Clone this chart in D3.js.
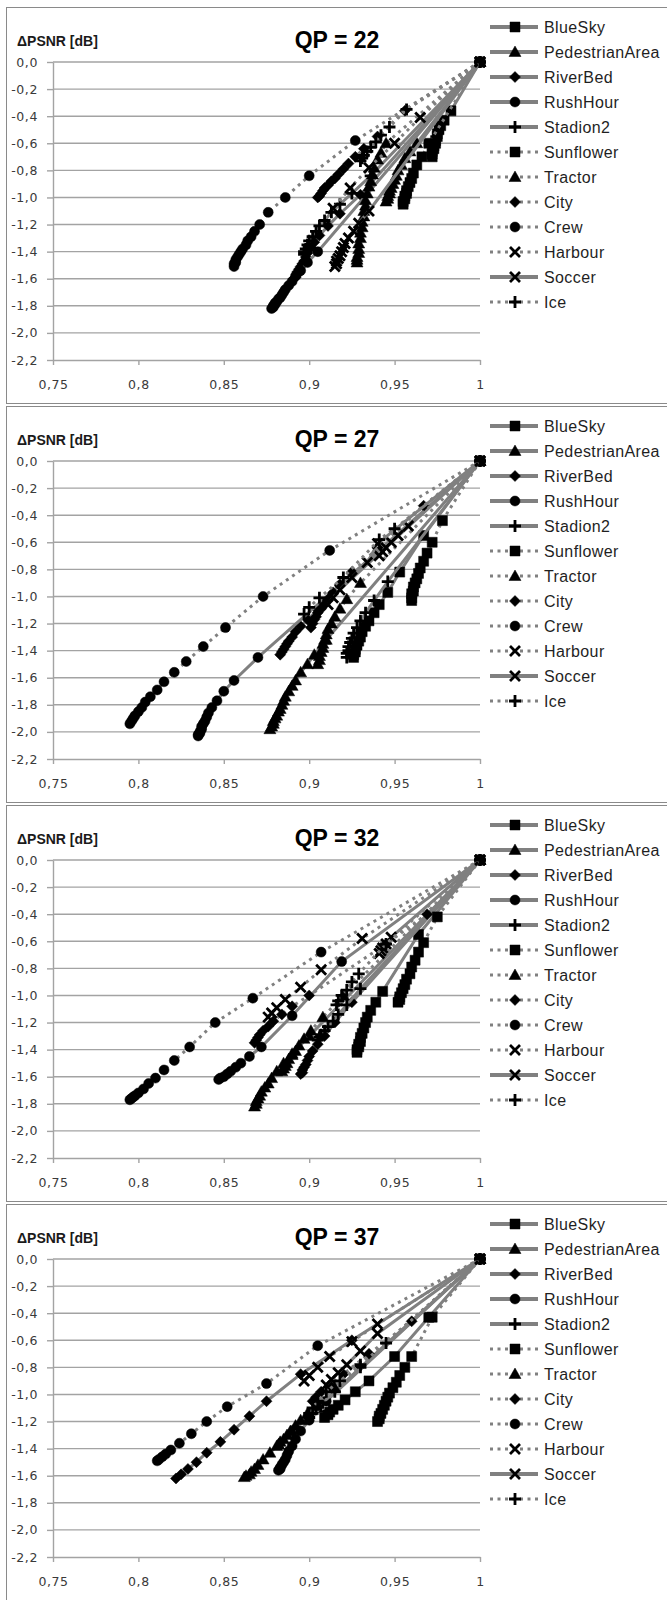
<!DOCTYPE html>
<html lang="en">
<head>
<meta charset="UTF-8">
<title>ΔPSNR vs ratio, QP 22-37</title>
<script src="https://d3js.org/d3.v7.min.js"></script>
<style>
  body { margin: 0; background: #fff; }
</style>
</head>
<body>
<script>

// series names and panel titles
var seriesNames = ["BlueSky", "PedestrianArea", "RiverBed", "RushHour", "Stadion2", "Sunflower",
                   "Tractor", "City", "Crew", "Harbour", "Soccer", "Ice"];
var qpValues = [22, 27, 32, 37];

// tick values and labels
var xTicks = [0.75, 0.8, 0.85, 0.9, 0.95, 1];
var xTickLabels = ["0,75", "0,8", "0,85", "0,9", "0,95", "1"];
var yTicks = [0, -0.2, -0.4, -0.6, -0.8, -1.0, -1.2, -1.4, -1.6, -1.8, -2.0, -2.2];
var yTickLabels = ["0,0", "-0,2", "-0,4", "-0,6", "-0,8", "-1,0", "-1,2", "-1,4", "-1,6", "-1,8", "-2,0", "-2,2"];

// [x, dPSNR] points per series, in seriesNames order
var qp22 = [
  [[1,0],[0.983,-0.36],[0.979,-0.43],[0.977,-0.47],[0.976,-0.5],[0.975,-0.53],[0.975,-0.55],[0.974,-0.58],[0.974,-0.6],[0.973,-0.62],[0.973,-0.64],[0.972,-0.66],[0.972,-0.68],[0.972,-0.7]],
  [[1,0],[0.963,-0.6],[0.959,-0.66],[0.956,-0.71],[0.954,-0.76],[0.952,-0.8],[0.951,-0.84],[0.95,-0.87],[0.949,-0.9],[0.948,-0.93],[0.947,-0.95],[0.947,-0.97],[0.946,-0.99],[0.946,-1.01],[0.945,-1.03]],
  [[1,0],[0.93,-0.98],[0.918,-1.12],[0.911,-1.21],[0.906,-1.28],[0.903,-1.33],[0.901,-1.37],[0.899,-1.41],[0.898,-1.44],[0.897,-1.47],[0.896,-1.49],[0.895,-1.51],[0.894,-1.53],[0.893,-1.55],[0.893,-1.57],[0.892,-1.59],[0.891,-1.6]],
  [[1,0],[0.905,-1.4],[0.899,-1.48],[0.895,-1.54],[0.892,-1.58],[0.89,-1.62],[0.888,-1.65],[0.886,-1.68],[0.885,-1.7],[0.884,-1.72],[0.883,-1.74],[0.882,-1.75],[0.881,-1.77],[0.88,-1.78],[0.88,-1.79],[0.879,-1.8],[0.879,-1.81],[0.878,-1.82]],
  [[1,0],[0.936,-0.84],[0.925,-0.97],[0.918,-1.05],[0.913,-1.11],[0.909,-1.17],[0.906,-1.21],[0.904,-1.25],[0.902,-1.29],[0.9,-1.32],[0.899,-1.35],[0.898,-1.38],[0.897,-1.4],[0.897,-1.42]],
  [[1,0],[0.97,-0.6],[0.966,-0.7],[0.963,-0.76],[0.961,-0.82],[0.96,-0.86],[0.959,-0.89],[0.958,-0.92],[0.957,-0.95],[0.957,-0.97],[0.956,-0.99],[0.956,-1.01],[0.955,-1.03],[0.955,-1.05]],
  [[1,0],[0.945,-0.6],[0.942,-0.67],[0.94,-0.72],[0.938,-0.78],[0.937,-0.83],[0.936,-0.88],[0.935,-0.92],[0.934,-0.97],[0.933,-1.02],[0.933,-1.06],[0.932,-1.1],[0.932,-1.14],[0.931,-1.18],[0.931,-1.22],[0.93,-1.26],[0.93,-1.3],[0.929,-1.34],[0.929,-1.38],[0.929,-1.41],[0.928,-1.44],[0.928,-1.46],[0.928,-1.48]],
  [[1,0],[0.956,-0.36],[0.94,-0.55],[0.932,-0.64],[0.927,-0.7],[0.923,-0.75],[0.92,-0.79],[0.917,-0.83],[0.915,-0.86],[0.913,-0.88],[0.911,-0.91],[0.909,-0.93],[0.908,-0.95],[0.907,-0.97],[0.906,-0.99],[0.905,-1.0]],
  [[1,0],[0.927,-0.58],[0.9,-0.84],[0.886,-1.0],[0.876,-1.11],[0.871,-1.2],[0.868,-1.25],[0.866,-1.29],[0.864,-1.32],[0.863,-1.35],[0.861,-1.38],[0.86,-1.4],[0.859,-1.42],[0.858,-1.44],[0.857,-1.46],[0.857,-1.48],[0.856,-1.49],[0.856,-1.51]],
  [[1,0],[0.965,-0.41],[0.95,-0.6],[0.935,-0.78],[0.924,-0.93],[0.914,-1.08]],
  [[1,0],[0.935,-1.1],[0.929,-1.19],[0.926,-1.25],[0.923,-1.3],[0.921,-1.34],[0.92,-1.37],[0.919,-1.4],[0.918,-1.43],[0.917,-1.45],[0.916,-1.47],[0.916,-1.49],[0.915,-1.51]],
  [[1,0],[0.957,-0.35],[0.947,-0.48],[0.942,-0.54],[0.939,-0.59],[0.936,-0.63],[0.934,-0.66],[0.932,-0.69],[0.931,-0.71],[0.93,-0.73]]
];

var qp27 = [
  [[1,0],[0.967,-0.55],[0.953,-0.82],[0.946,-0.97],[0.941,-1.06],[0.938,-1.12],[0.935,-1.18],[0.933,-1.22],[0.931,-1.26],[0.93,-1.3],[0.929,-1.33],[0.928,-1.36],[0.927,-1.39],[0.927,-1.41],[0.926,-1.43],[0.926,-1.45]],
  [[1,0],[0.91,-1.32],[0.903,-1.43],[0.899,-1.5],[0.895,-1.56],[0.892,-1.62],[0.89,-1.66],[0.888,-1.7],[0.886,-1.74],[0.885,-1.77],[0.884,-1.8],[0.883,-1.83],[0.882,-1.85],[0.881,-1.88],[0.88,-1.9],[0.879,-1.92],[0.879,-1.94],[0.878,-1.96],[0.877,-1.98]],
  [[1,0],[0.905,-1.1],[0.899,-1.17],[0.895,-1.22],[0.892,-1.26],[0.89,-1.3],[0.888,-1.33],[0.887,-1.35],[0.886,-1.37],[0.885,-1.39],[0.884,-1.41],[0.883,-1.43]],
  [[1,0],[0.87,-1.45],[0.856,-1.62],[0.85,-1.7],[0.846,-1.77],[0.843,-1.82],[0.841,-1.86],[0.84,-1.89],[0.839,-1.92],[0.838,-1.94],[0.837,-1.96],[0.837,-1.98],[0.836,-2.0],[0.836,-2.01],[0.835,-2.02],[0.835,-2.03]],
  [[1,0],[0.946,-0.89],[0.938,-1.03],[0.933,-1.12],[0.93,-1.18],[0.928,-1.23],[0.926,-1.27],[0.925,-1.31],[0.924,-1.34],[0.923,-1.37],[0.923,-1.4],[0.922,-1.42],[0.922,-1.45]],
  [[1,0],[0.978,-0.44],[0.972,-0.6],[0.969,-0.68],[0.967,-0.74],[0.965,-0.79],[0.964,-0.83],[0.963,-0.87],[0.962,-0.9],[0.961,-0.93],[0.961,-0.96],[0.96,-0.98],[0.96,-1.01],[0.96,-1.03]],
  [[1,0],[0.93,-0.9],[0.922,-1.02],[0.918,-1.09],[0.915,-1.15],[0.913,-1.2],[0.911,-1.24],[0.91,-1.28],[0.909,-1.32],[0.908,-1.35],[0.908,-1.38],[0.907,-1.41],[0.906,-1.44],[0.906,-1.47],[0.905,-1.5]],
  [[1,0],[0.967,-0.33],[0.925,-0.82],[0.918,-0.91],[0.914,-0.97],[0.911,-1.02],[0.909,-1.06],[0.907,-1.09],[0.905,-1.12],[0.904,-1.15],[0.903,-1.17],[0.902,-1.2],[0.901,-1.23]],
  [[1,0],[0.912,-0.66],[0.873,-1.0],[0.851,-1.23],[0.838,-1.37],[0.828,-1.48],[0.821,-1.56],[0.815,-1.63],[0.811,-1.69],[0.807,-1.74],[0.804,-1.78],[0.802,-1.82],[0.8,-1.85],[0.798,-1.88],[0.797,-1.9],[0.796,-1.92],[0.795,-1.94]],
  [[1,0],[0.958,-0.48],[0.952,-0.55],[0.948,-0.6],[0.945,-0.64],[0.943,-0.67],[0.941,-0.7]],
  [[1,0],[0.94,-0.61],[0.934,-0.75],[0.925,-0.86],[0.918,-0.95],[0.914,-1.01],[0.911,-1.06]],
  [[1,0],[0.95,-0.5],[0.941,-0.58],[0.92,-0.86],[0.906,-1.01],[0.9,-1.08],[0.897,-1.13]]
];

var qp32 = [
  [[1,0],[0.964,-0.55],[0.943,-0.97],[0.939,-1.05],[0.936,-1.11],[0.934,-1.16],[0.933,-1.2],[0.932,-1.24],[0.931,-1.28],[0.93,-1.31],[0.93,-1.34],[0.929,-1.36],[0.929,-1.38],[0.928,-1.4],[0.928,-1.42]],
  [[1,0],[0.9,-1.3],[0.89,-1.43],[0.885,-1.5],[0.881,-1.56],[0.878,-1.61],[0.876,-1.65],[0.874,-1.68],[0.872,-1.71],[0.871,-1.74],[0.87,-1.76],[0.869,-1.78],[0.869,-1.8],[0.868,-1.82]],
  [[1,0],[0.925,-1.05],[0.915,-1.2],[0.909,-1.3],[0.905,-1.36],[0.902,-1.41],[0.9,-1.45],[0.899,-1.48],[0.898,-1.51],[0.897,-1.53],[0.896,-1.55],[0.896,-1.57],[0.895,-1.58]],
  [[1,0],[0.919,-0.75],[0.89,-1.15],[0.872,-1.38],[0.865,-1.45],[0.86,-1.5],[0.857,-1.53],[0.854,-1.56],[0.852,-1.58],[0.85,-1.6],[0.848,-1.61],[0.847,-1.62]],
  [[1,0],[0.93,-0.95],[0.922,-1.07],[0.917,-1.14],[0.914,-1.19],[0.911,-1.23],[0.909,-1.26],[0.907,-1.29],[0.906,-1.31],[0.905,-1.33]],
  [[1,0],[0.975,-0.42],[0.967,-0.61],[0.964,-0.68],[0.962,-0.74],[0.96,-0.79],[0.959,-0.84],[0.957,-0.88],[0.956,-0.92],[0.955,-0.95],[0.954,-0.98],[0.953,-1.01],[0.953,-1.03],[0.952,-1.05]],
  [[1,0],[0.92,-1.0],[0.908,-1.16],[0.901,-1.26],[0.897,-1.32],[0.894,-1.37],[0.892,-1.41],[0.89,-1.44],[0.888,-1.47],[0.887,-1.5],[0.886,-1.52],[0.885,-1.54],[0.884,-1.56]],
  [[1,0],[0.969,-0.4],[0.945,-0.62],[0.9,-1.0],[0.89,-1.08],[0.884,-1.14],[0.879,-1.19],[0.876,-1.23],[0.873,-1.26],[0.871,-1.29],[0.87,-1.31],[0.869,-1.33],[0.868,-1.35]],
  [[1,0],[0.907,-0.68],[0.867,-1.02],[0.845,-1.2],[0.83,-1.38],[0.821,-1.48],[0.815,-1.55],[0.81,-1.61],[0.806,-1.65],[0.803,-1.69],[0.8,-1.72],[0.798,-1.74],[0.797,-1.75],[0.796,-1.76],[0.795,-1.77]],
  [[1,0],[0.931,-0.58],[0.907,-0.81],[0.895,-0.94],[0.886,-1.03],[0.881,-1.09],[0.878,-1.13],[0.876,-1.16]],
  [[1,0],[0.948,-0.57],[0.945,-0.62],[0.943,-0.65],[0.942,-0.67],[0.941,-0.69]],
  [[1,0],[0.945,-0.62],[0.929,-0.84],[0.925,-0.9],[0.922,-0.96],[0.919,-1.0],[0.917,-1.04],[0.916,-1.07]]
];

var qp37 = [
  [[1,0],[0.97,-0.43],[0.95,-0.72],[0.935,-0.9],[0.927,-0.98],[0.921,-1.04],[0.917,-1.08],[0.914,-1.11],[0.912,-1.13],[0.911,-1.15],[0.909,-1.17]],
  [[1,0],[0.905,-1.1],[0.89,-1.27],[0.882,-1.37],[0.877,-1.43],[0.873,-1.48],[0.87,-1.52],[0.868,-1.55],[0.866,-1.57],[0.865,-1.59],[0.863,-1.6],[0.862,-1.61]],
  [[1,0],[0.925,-0.6],[0.895,-0.85],[0.875,-1.05],[0.865,-1.16],[0.856,-1.26],[0.848,-1.35],[0.84,-1.43],[0.834,-1.5],[0.829,-1.55],[0.825,-1.59],[0.822,-1.62]],
  [[1,0],[0.91,-1.05],[0.9,-1.19],[0.895,-1.27],[0.892,-1.33],[0.89,-1.38],[0.888,-1.42],[0.887,-1.45],[0.886,-1.48],[0.885,-1.5],[0.884,-1.52],[0.883,-1.54],[0.883,-1.55],[0.882,-1.56]],
  [[1,0],[0.93,-0.8],[0.915,-0.98],[0.908,-1.06],[0.904,-1.11],[0.902,-1.14],[0.9,-1.17]],
  [[1,0],[0.972,-0.43],[0.96,-0.72],[0.956,-0.8],[0.953,-0.86],[0.951,-0.91],[0.949,-0.95],[0.947,-0.99],[0.946,-1.02],[0.945,-1.05],[0.944,-1.08],[0.943,-1.11],[0.942,-1.14],[0.941,-1.16],[0.941,-1.18],[0.94,-1.2]],
  [[1,0],[0.915,-0.95],[0.905,-1.07],[0.899,-1.14],[0.895,-1.19],[0.892,-1.23],[0.889,-1.27],[0.887,-1.3],[0.885,-1.33],[0.883,-1.35],[0.882,-1.37],[0.881,-1.38]],
  [[1,0],[0.96,-0.46],[0.935,-0.7],[0.92,-0.85],[0.912,-0.93],[0.907,-0.98],[0.904,-1.02],[0.902,-1.05]],
  [[1,0],[0.905,-0.64],[0.875,-0.92],[0.852,-1.09],[0.84,-1.2],[0.831,-1.29],[0.824,-1.36],[0.819,-1.41],[0.816,-1.44],[0.814,-1.46],[0.812,-1.48],[0.811,-1.49]],
  [[1,0],[0.94,-0.48],[0.925,-0.61],[0.912,-0.72],[0.905,-0.8],[0.9,-0.86],[0.897,-0.9]],
  [[1,0],[0.94,-0.55],[0.93,-0.68],[0.922,-0.78],[0.917,-0.84],[0.913,-0.89],[0.91,-0.93]],
  [[1,0],[0.945,-0.62],[0.93,-0.78],[0.918,-0.9],[0.91,-0.98],[0.905,-1.05],[0.902,-1.1],[0.9,-1.14]]
];

var panels = [qp22, qp27, qp32, qp37];

// styling per series (marker shape, dotted line)
var markerType = ["square", "triangle", "diamond", "circle", "plus", "square",
                  "triangle", "diamond", "circle", "cross", "cross", "plus"];
var isDotted = [false, false, false, false, false, true, true, true, true, true, false, true];

var lineGray = "#808080",
    gridGray = "#a3a3a3";

var markerPath = {
  square:   "M-5,-5h10v10h-10z",
  triangle: "M0,-6L6,4.5L-6,4.5z",
  diamond:  "M0,-5.5L5.5,0L0,5.5L-5.5,0z",
  circle:   "M5,0A5,5 0 1,1 -5,0A5,5 0 1,1 5,0z",
  plus:     "M-6,0H6M0,-6V6",
  cross:    "M-5,-5L5,5M5,-5L-5,5"
};

function drawMarker(sel, type) {
  var stroked = (type == "plus" || type == "cross");
  sel.append("path")
    .attr("d", markerPath[type])
    .attr("fill", stroked ? "none" : "#000")
    .attr("stroke", "#000")
    .attr("stroke-width", stroked ? 2.8 : 0.5);
}

function styleLine(sel, dotted) {
  sel.attr("fill", "none")
    .attr("stroke", lineGray)
    .attr("stroke-width", 3)
    .attr("stroke-dasharray", dotted ? "3 4.5" : null);
}

var svg = d3.select("body")
  .append("svg")
    .attr("width", 667)
    .attr("height", 1600);

var panelPitch = 399, panelTop = 7;

panels.forEach(function(data, p) {
  var g = svg.append("g")
      .attr("transform", "translate(0," + (panelTop + p * panelPitch) + ")");

  // panel frame
  g.append("rect")
      .attr("x", 6.5).attr("y", 0.5)
      .attr("width", 680).attr("height", 396)
      .attr("fill", "#fff")
      .attr("stroke", "#8a8a8a");

  var x = d3.scaleLinear().domain([0.75, 1]).range([53, 480]);
  var y = d3.scaleLinear().domain([-2.2, 0]).range([353, 55]);

  // horizontal gridlines
  g.append("g").selectAll("line")
    .data(yTicks.slice(0, -1))
    .enter().append("line")
      .attr("x1", 53).attr("x2", x(1))
      .attr("y1", function(d) { return y(d); })
      .attr("y2", function(d) { return y(d); })
      .attr("stroke", gridGray)
      .attr("stroke-width", 1.4);

  // axes
  var yAxis = g.append("g")
      .attr("transform", "translate(53,0)")
      .call(d3.axisLeft(y)
        .tickValues(yTicks)
        .tickFormat(function(d, i) { return yTickLabels[i]; })
        .tickSize(6).tickSizeOuter(0).tickPadding(9));

  var xAxis = g.append("g")
      .attr("transform", "translate(0," + y(-2.2) + ")")
      .call(d3.axisBottom(x)
        .tickValues(xTicks)
        .tickFormat(function(d, i) { return xTickLabels[i]; })
        .tickSize(5).tickSizeOuter(0).tickPadding(15));

  [yAxis, xAxis].forEach(function(ax) {
    ax.select(".domain").attr("stroke", gridGray).attr("stroke-width", 1.4);
    ax.selectAll(".tick line").attr("stroke", gridGray).attr("stroke-width", 1.4);
    ax.selectAll(".tick text")
      .attr("fill", "#3a3a3a")
      .style("font-family", "DejaVu Sans")
      .style("font-size", "12.5px")
      .style("letter-spacing", "0.6px");
  });

  // axis title and panel title
  g.append("text")
      .attr("x", 17).attr("y", 39)
      .style("font-family", "Liberation Sans")
      .style("font-weight", "bold")
      .style("font-size", "14px")
      .attr("fill", "#1a1a1a")
      .text("ΔPSNR [dB]");

  g.append("text")
      .attr("x", 337).attr("y", 41)
      .attr("text-anchor", "middle")
      .style("font-family", "Liberation Sans")
      .style("font-weight", "bold")
      .style("font-size", "23px")
      .attr("fill", "#000")
      .text("QP = " + qpValues[p]);

  // series
  var line = d3.line()
      .x(function(d) { return x(d[0]); })
      .y(function(d) { return y(d[1]); });

  data.forEach(function(pts, s) {
    g.append("path")
        .datum(pts)
        .attr("d", line)
        .call(styleLine, isDotted[s]);

    g.append("g").selectAll("g")
      .data(pts)
      .enter().append("g")
        .attr("transform", function(d) { return "translate(" + x(d[0]) + "," + y(d[1]) + ")"; })
        .each(function() { drawMarker(d3.select(this), markerType[s]); });
  });

  // legend
  var leg = g.append("g").selectAll("g")
    .data(seriesNames)
    .enter().append("g")
      .attr("transform", function(d, i) { return "translate(0," + (20 + i * 25) + ")"; });

  leg.append("line")
      .attr("x1", 490).attr("x2", 538)
      .each(function(d, i) {
        d3.select(this).call(styleLine, isDotted[i]);
        if (!isDotted[i]) d3.select(this).attr("stroke-width", 4);
      });

  leg.append("g")
      .attr("transform", "translate(515,0)")
      .each(function(d, i) { drawMarker(d3.select(this), markerType[i]); });

  leg.append("text")
      .attr("x", 544)
      .attr("dy", "0.36em")
      .style("font-family", "Liberation Sans")
      .style("font-size", "16px")
      .style("letter-spacing", "0.4px")
      .attr("fill", "#1f1f1f")
      .text(function(d) { return d; });
});

</script>
</body>
</html>
